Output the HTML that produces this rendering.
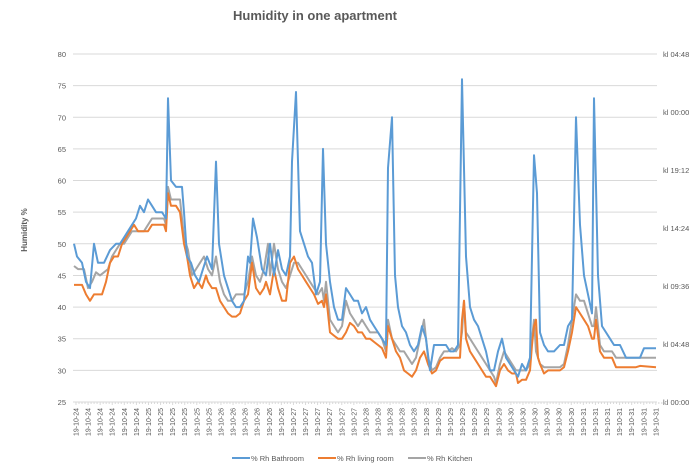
<!DOCTYPE html>
<html><head><meta charset="utf-8"><style>
body{margin:0;background:#fff;}
svg text{font-family:"Liberation Sans",sans-serif;}
</style></head><body>
<svg id="s" width="698" height="467" xmlns="http://www.w3.org/2000/svg">
<rect width="698" height="467" fill="#fff"/>
<text x="315" y="20" text-anchor="middle" font-size="13" font-weight="bold" fill="#595959">Humidity in one apartment</text>
<text transform="translate(27,230) rotate(-90)" text-anchor="middle" font-size="8" font-weight="bold" fill="#595959">Humidity %</text>
<g id="grid"></g>
<g id="series" fill="none" stroke-width="2" stroke-linejoin="round"></g>
<g font-size="7.5" fill="#595959">
<line x1="232" y1="458" x2="250" y2="458" stroke="#5b9bd5" stroke-width="2"/><text x="251" y="461">% Rh Bathroom</text>
<line x1="318" y1="458" x2="336" y2="458" stroke="#ed7d31" stroke-width="2"/><text x="337" y="461">% Rh living room</text>
<line x1="408" y1="458" x2="426" y2="458" stroke="#a5a5a5" stroke-width="2"/><text x="427" y="461">% Rh Kitchen</text>
</g>
</svg>
<script>
const NS="http://www.w3.org/2000/svg";
const Y=v=>54+(80-v)*6.327;
const g=document.getElementById('grid');
function el(t,a,p,txt){const e=document.createElementNS(NS,t);for(const k in a)e.setAttribute(k,a[k]);if(txt!==undefined)e.textContent=txt;p.appendChild(e);return e;}
for(let v=25;v<=80;v+=5){const y=Y(v);
 if(v>25)el('line',{x1:73,x2:657,y1:y,y2:y,stroke:'#d9d9d9','stroke-width':1},g);
 el('text',{x:66,y:y+3,'text-anchor':'end','font-size':7.5,fill:'#595959'},g,v);}
el('line',{x1:73,x2:657,y1:Y(25),y2:Y(25),stroke:'#d9d9d9','stroke-width':1},g);
const rl=['kl 04:48','kl 00:00','kl 19:12','kl 14:24','kl 09:36','kl 04:48','kl 00:00'];
rl.forEach((t,i)=>el('text',{x:663,y:54+i*58+3,'font-size':7.5,fill:'#595959'},g,t));
for(let i=0;i<49;i++){const x=76+i*12.08;const d=Math.min(31,24+Math.floor(i/6));
 el('line',{x1:x,x2:x,y1:Y(25),y2:Y(25)+3,stroke:'#d9d9d9'},g);
 for(let k=1;k<4;k++)el('line',{x1:x+k*3,x2:x+k*3,y1:Y(25),y2:Y(25)+2,stroke:'#d9d9d9'},g);
 el('text',{transform:`translate(${x+2.5},${Y(25)+6}) rotate(-90)`,'text-anchor':'end','font-size':7,fill:'#595959'},g,'19-10-'+d);}
const B="74:50,77:48,82:47,86:44,90:43,94:50,98:47,104:47,110:49,116:50,120:50,124:51,128:52,132:53,136:54,140:56,144:55,148:57,152:56,156:55,162:55,166:54,168:73,171:60,176:59,182:59,184:55,187:48,191:47,195:45,199:44,203:46,207:48,212:46,216:63,219:50,224:45,228:43,232:41,236:40,240:40,244:41,248:48,250:47,253:54,257:51,262:46,266:45,270:50,274:45,278:49,282:46,286:45,290:48,292:63,296:74,300:52,304:50,308:48,312:47,316:42,320:44,323:65,326:50,330:44,334:40,338:38,342:38,346:43,350:42,354:41,358:41,362:39,366:40,370:38,374:37,378:36,382:35,386:34,388:62,392:70,395:45,398:40,402:37,406:36,410:34,414:33,418:34,422:37,426:35,430:30,434:34,438:34,442:34,446:34,450:33,454:33,458:34,462:76,466:48,470:40,474:38,478:37,482:35,486:33,490:30,494:30,498:33,502:35,506:32,510:31,514:30,518:29,522:31,526:30,530:32,534:64,537:58,540:36,544:34,548:33,554:33,560:34,564:34,568:37,572:38,576:70,580:53,584:45,588:42,592:39,594:73,598:45,602:37,606:36,610:35,614:34,620:34,626:32,640:32,644:33.5,656:33.5";
const O="74:43.5,82:43.5,86:42,90:41,94:42,98:42,102:42,106:44,110:47,114:48,118:48,122:50,126:51,130:52,134:53,138:52,142:52,148:52,152:53,156:53,160:53,164:53,166:52,168:58,171:56,176:56,180:55,184:50,187:48,190:45,194:43,198:44,202:43,206:45,208:44,212:43,216:43,220:41,224:40,228:39,232:38.5,236:38.5,240:39,244:41,248:42,252:47,256:43,260:42,264:43,266:44,270:42,274:46,278:43,282:41,286:41,290:47,294:48,298:46,302:45,306:44,310:43,314:42,318:40.5,322:41,324:40,326:42,330:36,334:35.5,338:35,342:35,346:36,350:37.5,354:37,358:36,362:36,366:35,370:35,374:34.5,378:34,382:33.5,386:32,388:37,392:35,396:33,400:32,404:30,408:29.5,412:29,416:30,420:32,424:33,428:31,432:29.5,436:30,440:31.5,444:32,448:32,452:32,456:32,460:32,462:38,464:41,466:35,470:33,474:32,478:31,482:30,486:29,490:29,494:28,496:27.5,500:30,504:31,508:30,512:29.5,516:29.5,518:28,522:28.5,526:28.5,530:30,532:34,534:37,536:38,538:32,540:31,544:29.5,548:30,552:30,556:30,560:30,564:30.5,568:33,572:36,576:40,580:39,584:38,588:37,592:35,594:35,596:38,600:33,604:32,608:32,612:32,616:30.5,624:30.5,636:30.5,640:30.7,656:30.5";
const G="74:46.5,78:46,84:46,88:43,92:44,96:45.5,100:45,104:45.5,108:46,112:48,116:49,120:50,124:50,128:51,132:52,136:52,140:52,144:52,148:53,152:54,156:54,160:54,164:54,166:53,168:59,171:57,176:57,180:57,184:51,188:49,192:45,196:46,200:47,204:48,208:46,212:45,216:48,220:44,224:42,228:41,232:41,236:42,240:42,244:42,248:44,252:48,256:45,260:44,264:46,268:50,270:45,274:50,278:46,282:44,286:43,290:45,294:47,298:47,302:46,306:45,310:44,314:43,318:42,322:43,324:41,326:44,330:38,334:37,338:36,342:37,346:41,350:39,354:38,358:37,362:38,366:37,370:36,374:36,378:36,382:35,386:33,388:38,392:35,396:34,400:33,404:33,408:32,412:31,416:32,420:35,424:38,428:32,432:30,436:30.5,440:32,444:33,448:33,452:33.5,456:33,460:34,462:36,464:41,466:36,470:35,474:34,478:33,482:32,486:31,490:30,494:29,496:28,500:31,504:33,508:32,512:31,516:30,520:30,526:30,530:31,532:35,534:38,536:33,540:31,544:30.5,550:30.5,560:30.5,564:31,568:34,572:38,576:42,580:41,584:41,588:39,592:37,594:37,596:40,600:34,604:33,612:33,616:32,640:32,656:32";
const s=document.getElementById('series');
[[G,'#a5a5a5'],[O,'#ed7d31'],[B,'#5b9bd5']].forEach(([d,c])=>{
 const pts=d.split(',').map(p=>{const[a,b]=p.split(':').map(Number);return a+','+Y(b).toFixed(1);}).join(' ');
 el('polyline',{points:pts,stroke:c},s);});
</script>
</body></html>
